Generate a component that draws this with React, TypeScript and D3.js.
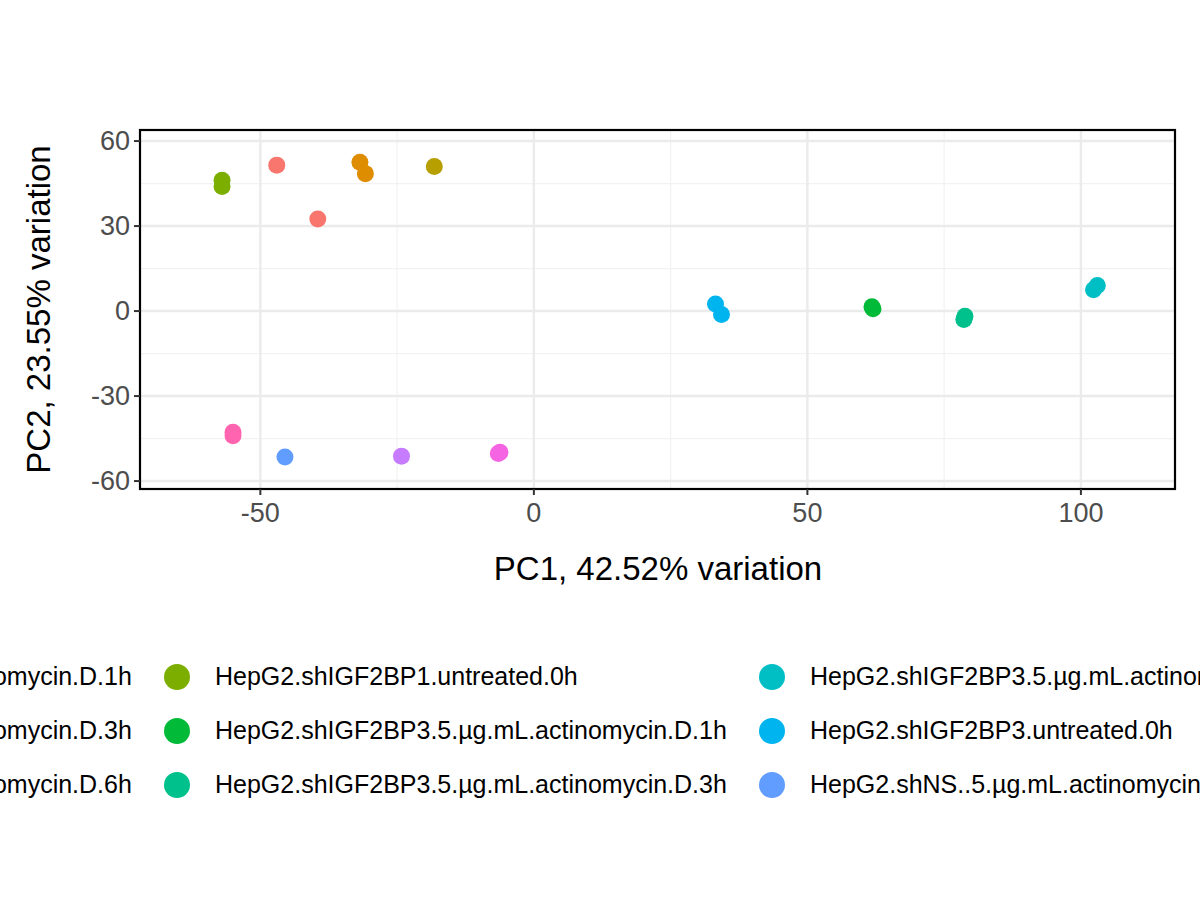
import React from 'react';
import * as d3 from 'd3';

const groups = [
  'HepG2.shIGF2BP1.5.µg.mL.actinomycin.D.1h',
  'HepG2.shIGF2BP1.5.µg.mL.actinomycin.D.3h',
  'HepG2.shIGF2BP1.5.µg.mL.actinomycin.D.6h',
  'HepG2.shIGF2BP1.untreated.0h',
  'HepG2.shIGF2BP3.5.µg.mL.actinomycin.D.1h',
  'HepG2.shIGF2BP3.5.µg.mL.actinomycin.D.3h',
  'HepG2.shIGF2BP3.5.µg.mL.actinomycin.D.6h',
  'HepG2.shIGF2BP3.untreated.0h',
  'HepG2.shNS..5.µg.mL.actinomycin.D.1h',
  'HepG2.shNS..5.µg.mL.actinomycin.D.3h',
  'HepG2.shNS..5.µg.mL.actinomycin.D.6h',
  'HepG2.shNS.untreated.0h',
];
const colors = ['#F8766D', '#DE8C00', '#B79F00', '#7CAE00', '#00BA38', '#00C08B', '#00BFC4', '#00B4F0', '#619CFF', '#C77CFF', '#F564E3', '#FF64B0'];

// [group index, PC1, PC2]
const points: [number, number, number][] = [
  [0, -47, 51.5], [0, -39.5, 32.5],
  [1, -31.8, 52.5], [1, -30.8, 48.5],
  [2, -18.2, 51],
  [3, -57, 46.2], [3, -57, 44],
  [4, 61.8, 1.5], [4, 62, 0.8],
  [5, 78.8, -1.8], [5, 78.6, -3],
  [6, 103, 9], [6, 102.3, 7.5],
  [7, 33.2, 2.5], [7, 34.3, -1.2],
  [8, -45.5, -51.5],
  [9, -24.2, -51.2],
  [10, -6.2, -49.8], [10, -6.5, -50.3],
  [11, -55, -42.8], [11, -55, -44],
];

const xTicks = [-50, 0, 50, 100];
const xMinor = [-25, 25, 75];
const yTicks = [-60, -30, 0, 30, 60];
const yMinor = [-45, -15, 15, 45];

export default function App() {
  const W = 1200, H = 900;
  const L = 140, R = 1175, T = 130, B = 489;
  const x = d3.scaleLinear().domain([-72, 117.2]).range([L, R]);
  const y = d3.scaleLinear().domain([-62.8, 63.9]).range([B, T]);
  const font = 'Liberation Sans, Arial, sans-serif';
  return (
    <svg width={W} height={H} style={{ position: 'absolute', left: 0, top: 0 }} fontFamily={font}>
      <rect width={W} height={H} fill="#fff" />
      {xMinor.map(v => <line key={'xm' + v} x1={x(v)} x2={x(v)} y1={T} y2={B} stroke="#F2F2F2" strokeWidth={1.2} />)}
      {yMinor.map(v => <line key={'ym' + v} y1={y(v)} y2={y(v)} x1={L} x2={R} stroke="#F2F2F2" strokeWidth={1.2} />)}
      {xTicks.map(v => <line key={'x' + v} x1={x(v)} x2={x(v)} y1={T} y2={B} stroke="#EBEBEB" strokeWidth={2.4} />)}
      {yTicks.map(v => <line key={'y' + v} y1={y(v)} y2={y(v)} x1={L} x2={R} stroke="#EBEBEB" strokeWidth={2.4} />)}
      {points.map(([g, px, py], i) => <circle key={i} cx={x(px)} cy={y(py)} r={8.5} fill={colors[g]} />)}
      <rect x={L} y={T} width={R - L} height={B - T} fill="none" stroke="#000" strokeWidth={2.2} />
      {xTicks.map(v => (
        <g key={'xt' + v}>
          <line x1={x(v)} x2={x(v)} y1={B} y2={B + 6} stroke="#333" strokeWidth={2} />
          <text x={x(v)} y={B + 33} textAnchor="middle" fontSize={27} fill="#4D4D4D">{v}</text>
        </g>
      ))}
      {yTicks.map(v => (
        <g key={'yt' + v}>
          <line x1={L - 6} x2={L} y1={y(v)} y2={y(v)} stroke="#333" strokeWidth={2} />
          <text x={L - 10} y={y(v) + 9} textAnchor="end" fontSize={27} fill="#4D4D4D">{v}</text>
        </g>
      ))}
      <text x={658} y={580} textAnchor="middle" fontSize={33}>PC1, 42.52% variation</text>
      <text transform={`translate(50,${(T + B) / 2}) rotate(-90)`} textAnchor="middle" fontSize={33}>PC2, 23.55% variation</text>
      {groups.map((g, i) => {
        const col = Math.floor(i / 3), row = i % 3;
        const kx = -418 + col * 595, ky = 677 + row * 54;
        return (
          <g key={g}>
            <circle cx={kx} cy={ky} r={13} fill={colors[i]} />
            <text x={kx + 38} y={ky + 8} fontSize={25}>{g}</text>
          </g>
        );
      })}
    </svg>
  );
}
